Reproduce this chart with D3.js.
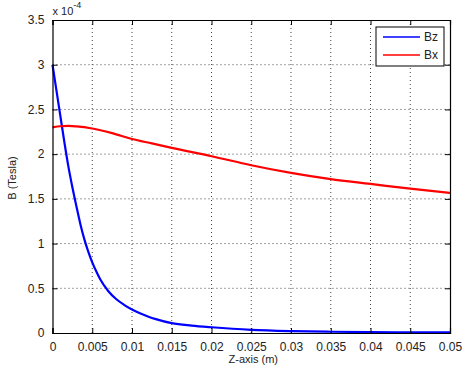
<!DOCTYPE html>
<html>
<head>
<meta charset="utf-8">
<script src="https://cdn.jsdelivr.net/npm/d3@7"></script>
<style>
body { margin: 0; background: #fff; }
text { font-family: "Liberation Sans", Arial, sans-serif; }
</style>
</head>
<body>
<script>
// data, B in units of 1e-4 Tesla
var zBz = [0, 0.0005, 0.001, 0.0015, 0.002, 0.0025, 0.003, 0.0035, 0.004, 0.0045, 0.005, 0.0055, 0.006, 0.007, 0.008, 0.009, 0.01, 0.011, 0.012, 0.013, 0.015, 0.0175, 0.02, 0.025, 0.03, 0.035, 0.04, 0.045, 0.05]
var bz = [3.0, 2.71, 2.42, 2.13, 1.86, 1.63, 1.42, 1.22, 1.05, 0.91, 0.79, 0.69, 0.60, 0.47, 0.38, 0.315, 0.262, 0.22, 0.185, 0.155, 0.11, 0.083, 0.064, 0.035, 0.021, 0.014, 0.01, 0.008, 0.006]
var zBx = [0, 0.001, 0.002, 0.003, 0.005, 0.0075, 0.01, 0.0125, 0.015, 0.02, 0.025, 0.03, 0.035, 0.04, 0.045, 0.05]
var bx = [2.30, 2.312, 2.315, 2.31, 2.287, 2.235, 2.17, 2.12, 2.07, 1.977, 1.876, 1.79, 1.72, 1.667, 1.614, 1.566]
var xTicks = [0, 0.005, 0.01, 0.015, 0.02, 0.025, 0.03, 0.035, 0.04, 0.045, 0.05]
var yTicks = [0, 0.5, 1, 1.5, 2, 2.5, 3, 3.5]
var seriesNames = ['Bz', 'Bx']
var seriesColors = ['#0000ff', '#ff0000']

var margin = { top: 20, right: 24, bottom: 34, left: 52.5 },
    width = 474 - margin.left - margin.right,
    height = 367 - margin.top - margin.bottom

var x = d3.scaleLinear().domain([0, 0.05]).range([0, width])
var y = d3.scaleLinear().domain([0, 3.5]).range([height, 0])

var svg = d3.select('body').append('svg')
    .attr('width', 474)
    .attr('height', 367)
    .append('g')
    .attr('transform', 'translate(' + margin.left + ',' + margin.top + ')')

// white plot area
svg.append('rect')
    .attr('width', width).attr('height', height)
    .attr('fill', '#fff')

// grid
svg.append('g').selectAll('line').data(xTicks.slice(1, -1)).enter().append('line')
    .attr('x1', d => x(d)).attr('x2', d => x(d))
    .attr('y1', 0).attr('y2', height)
    .attr('stroke', '#444').attr('stroke-width', 1)
    .attr('stroke-dasharray', '1,3')
svg.append('g').selectAll('line').data(yTicks.slice(1, -1)).enter().append('line')
    .attr('y1', d => y(d)).attr('y2', d => y(d))
    .attr('x1', 0).attr('x2', width)
    .attr('stroke', '#444').attr('stroke-width', 1)
    .attr('stroke-dasharray', '1,3')

// lines
var line = d3.line()
    .x(d => x(d[0]))
    .y(d => y(d[1]))
    .curve(d3.curveMonotoneX)

var series = [d3.zip(zBz, bz), d3.zip(zBx, bx)]
series.forEach((s, i) => {
    svg.append('path')
        .datum(s)
        .attr('d', line)
        .attr('fill', 'none')
        .attr('stroke', seriesColors[i])
        .attr('stroke-width', 2.2)
})

// axes, ticks inward like matlab
var fmt = d => d3.format('')(+d.toFixed(4))
svg.append('g')
    .attr('transform', 'translate(0,' + height + ')')
    .call(d3.axisBottom(x).tickValues(xTicks).tickSize(-5).tickPadding(9).tickFormat(fmt))
svg.append('g')
    .call(d3.axisLeft(y).tickValues(yTicks).tickSize(-5).tickPadding(8).tickFormat(fmt))
svg.append('g')
    .call(d3.axisTop(x).tickValues(xTicks).tickSize(-5).tickFormat(''))
svg.append('g')
    .attr('transform', 'translate(' + width + ',0)')
    .call(d3.axisRight(y).tickValues(yTicks).tickSize(-5).tickFormat(''))

svg.selectAll('.domain').attr('stroke', '#000').attr('stroke-width', 1.2)
svg.selectAll('.tick line').attr('stroke', '#000')
svg.selectAll('.tick text')
    .attr('fill', '#222')
    .style('font-size', '12px')
    .style('font-family', '"Liberation Sans", Arial, sans-serif')

// axis labels
svg.append('text')
    .attr('x', width / 2 + 2)
    .attr('y', height + 30)
    .style('text-anchor', 'middle')
    .style('font-size', '11px')
    .attr('fill', '#222')
    .text('Z-axis (m)')

svg.append('text')
    .attr('transform', 'rotate(-90)')
    .attr('x', 0 - 158)
    .attr('y', 0 - margin.left + 16)
    .style('text-anchor', 'middle')
    .style('font-size', '11px')
    .attr('fill', '#222')
    .text('B (Tesla)')

// exponent
var ex = svg.append('text')
    .attr('x', 0)
    .attr('y', -5)
    .style('font-size', '11px')
    .attr('fill', '#222')
ex.append('tspan').text('x 10')
ex.append('tspan').attr('dy', -7).style('font-size', '9px').text('-4')

// legend
var lg = svg.append('g')
    .attr('transform', 'translate(' + (width - 74) + ',7)')
lg.append('rect')
    .attr('width', 68).attr('height', 39)
    .attr('fill', '#fff').attr('stroke', '#000').attr('stroke-width', 1)
seriesNames.forEach((n, i) => {
    lg.append('line')
        .attr('x1', 7).attr('x2', 44)
        .attr('y1', 10 + i * 18).attr('y2', 10 + i * 18)
        .attr('stroke', seriesColors[i]).attr('stroke-width', 1.5)
    lg.append('text')
        .attr('x', 48).attr('y', 14 + i * 18)
        .style('font-size', '12px')
        .attr('fill', '#222')
        .text(n)
})
</script>
</body>
</html>
